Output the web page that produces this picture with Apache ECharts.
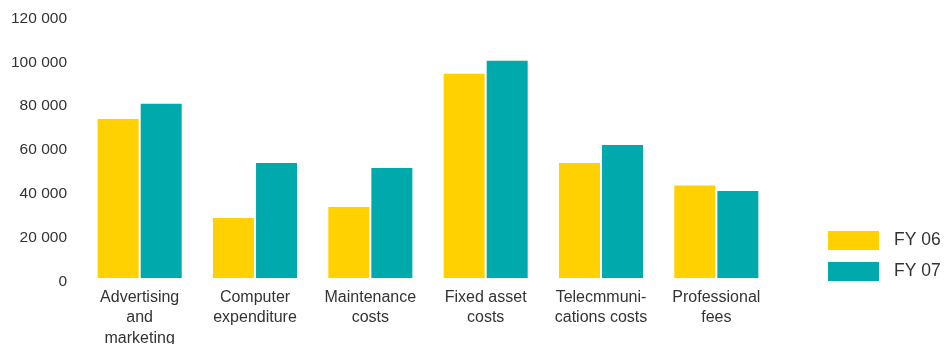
<!DOCTYPE html>
<html>
<head>
<meta charset="utf-8">
<script src="https://cdn.jsdelivr.net/npm/echarts@6/dist/echarts.min.js"></script>
<style>
html,body{margin:0;padding:0;background:#fff;}
#chart{width:949px;height:344px;}
</style>
</head>
<body>
<div id="chart"></div>
<script>
var categories = ["Advertising\nand\nmarketing", "Computer\nexpenditure", "Maintenance\ncosts", "Fixed asset\ncosts", "Telecmmuni-\ncations costs", "Professional\nfees"];
var seriesNames = ["FY 06", "FY 07"];
var fy06 = [72600, 27400, 32400, 93200, 52500, 42200];
var fy07 = [79500, 52500, 50200, 99100, 60700, 39700];
var yTicks = { min: 0, max: 120000, interval: 20000 };

var FONT = "'Liberation Sans', Arial, sans-serif";
var chart = echarts.init(document.getElementById('chart'), null, { renderer: 'canvas' });
function fmt(v) { return String(v).replace(/\B(?=(\d{3})+(?!\d))/g, ' '); }
chart.setOption({
  animation: false,
  backgroundColor: '#ffffff',
  grid: { left: 82, right: 175, top: 15, bottom: 66, containLabel: false, outerBoundsMode: 'none' },
  legend: {
    orient: 'vertical',
    left: 828,
    top: 231,
    padding: 0,
    itemWidth: 51,
    itemHeight: 19,
    itemGap: 12,
    icon: 'rect',
    textStyle: { fontFamily: FONT, fontSize: 17.5, color: '#333333', padding: [0, 0, 0, 10] },
    data: seriesNames
  },
  xAxis: {
    type: 'category',
    data: categories,
    axisLine: { show: false },
    axisTick: { show: false },
    splitLine: { show: false },
    axisLabel: {
      interval: 0,
      margin: 9,
      fontFamily: FONT,
      fontSize: 16,
      lineHeight: 20.5,
      color: '#333333'
    }
  },
  yAxis: {
    type: 'value',
    min: yTicks.min,
    max: yTicks.max,
    interval: yTicks.interval,
    axisLine: { show: false },
    axisTick: { show: false },
    splitLine: { show: false },
    axisLabel: {
      margin: 15,
      fontFamily: FONT,
      fontSize: 15.5,
      color: '#333333',
      formatter: function (v) { return '{a|' + fmt(v) + '}'; },
      rich: { a: { fontFamily: FONT, fontSize: 15.5, color: '#333333', padding: [7, 0, 0, 0] } }
    }
  },
  series: [
    { name: seriesNames[0], type: 'bar', data: fy06, barWidth: 41, barGap: '5%', itemStyle: { color: '#FFD100' } },
    { name: seriesNames[1], type: 'bar', data: fy07, barWidth: 41, barGap: '5%', itemStyle: { color: '#00A9AC' } }
  ]
});
</script>
</body>
</html>
